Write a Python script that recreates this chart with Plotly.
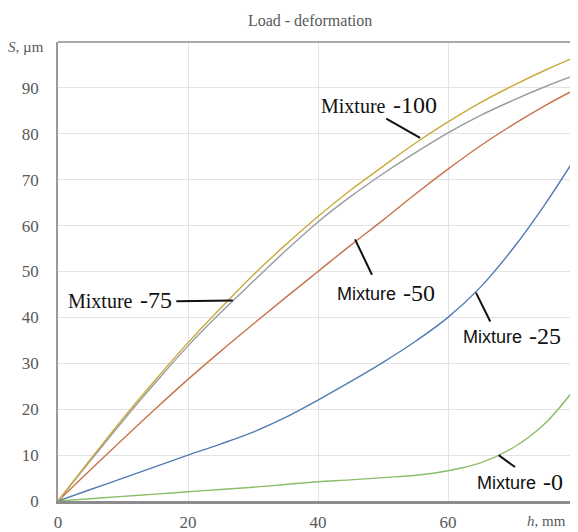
import plotly.graph_objects as go

# ---- data ----
h_mm = [0, 5, 10, 15, 20, 25, 30, 35, 40, 45, 50, 55, 60, 65, 70, 75, 80]
mix_100 = [0, 9.1, 18.0, 26.4, 34.5, 42.0, 49.2, 55.8, 62.0, 67.7, 72.9, 78.0, 82.6, 86.8, 90.5, 93.9, 97.0]
mix_75 = [0, 8.8, 17.5, 25.8, 33.8, 41.0, 47.8, 54.5, 60.8, 66.3, 71.3, 75.9, 80.2, 84.0, 87.3, 90.3, 93.0]
mix_50 = [0, 6.8, 13.5, 20.1, 26.5, 32.6, 38.5, 44.3, 50.0, 55.7, 61.2, 66.9, 72.3, 77.4, 82.0, 86.2, 90.0]
mix_25 = [0, 2.5, 5.0, 7.5, 10.0, 12.4, 15.0, 18.2, 22.0, 26.0, 30.2, 34.8, 40.0, 46.6, 55.0, 64.8, 75.7]
mix_0 = [0, 0.5, 1.0, 1.5, 2.0, 2.5, 3.0, 3.6, 4.2, 4.6, 5.1, 5.6, 6.6, 8.3, 11.6, 17.0, 25.4]

series_names = ["Mixture -0", "Mixture -25", "Mixture -50", "Mixture -75", "Mixture -100"]
series_values = [mix_0, mix_25, mix_50, mix_75, mix_100]
series_colors = ["#8cbd6a", "#4f7db3", "#c8744a", "#9a9aa2", "#c9aa3c"]

x_ticks = [0, 20, 40, 60]
y_ticks = [0, 10, 20, 30, 40, 50, 60, 70, 80, 90]

SERIF = "Liberation Serif"
SANS = "Liberation Sans"

fig = go.Figure()
for name, vals, col in zip(series_names, series_values, series_colors):
    fig.add_trace(go.Scatter(
        x=h_mm, y=vals, mode="lines", name=name,
        line=dict(color=col, width=1.4, shape="spline", smoothing=1.0),
        showlegend=False, hoverinfo="skip"))

# label annotations: (word, number, word font, word size, split x, y, pointer x0,y0,x1,y1)
labels = [
    ("Mixture", "-100", SERIF, 20, 51.1, 86.3, (50.5, 83.3, 55.7, 79.1)),
    ("Mixture", "-75", SERIF, 20, 12.2, 43.7, (18.2, 43.5, 26.9, 43.7)),
    ("Mixture", "-50", SANS, 18, 52.6, 45.4, (45.7, 57.0, 48.3, 49.3)),
    ("Mixture", "-25", SANS, 18, 72.0, 35.9, (64.3, 45.4, 66.5, 39.1)),
    ("Mixture", "-0", SANS, 18, 74.2, 4.1, (67.8, 10.0, 70.3, 7.4)),
]
for word, num, wfont, wsize, lx, ly, (x0, y0, x1, y1) in labels:
    fig.add_annotation(
        x=lx, y=ly, xref="x", yref="y", showarrow=False, text=word,
        font=dict(family=wfont, size=wsize, color="#111111"),
        xanchor="right", yanchor="middle", xshift=-2, yshift=-1)
    fig.add_annotation(
        x=lx, y=ly, xref="x", yref="y", showarrow=False, text=num,
        font=dict(family=SERIF, size=24, color="#111111"),
        xanchor="left", yanchor="middle", xshift=1)
    fig.add_shape(type="line", xref="x", yref="y", x0=x0, y0=y0, x1=x1, y1=y1,
                  line=dict(color="#111111", width=2))

# top border
fig.add_shape(type="line", xref="paper", yref="paper", x0=0, x1=1, y0=1, y1=1,
              line=dict(color="#8c8c8c", width=1.5))

# axis titles
fig.add_annotation(x=0, y=1, xref="paper", yref="paper", xanchor="right", yanchor="middle",
                   xshift=-12, yshift=-5, showarrow=False,
                   text="<i>S</i>, µm", font=dict(family=SERIF, size=15, color="#595959"))
fig.add_annotation(x=1, y=0, xref="paper", yref="paper", xanchor="right", yanchor="top",
                   xshift=-10, yshift=-10, showarrow=False,
                   text="<i>h</i>, mm", font=dict(family=SERIF, size=15, color="#595959"))

# the page body adds an 8px offset, so the figure is 8px smaller on each side
fig.update_layout(
    width=570, height=524,
    margin=dict(l=50, r=0, t=34, b=22),
    paper_bgcolor="white", plot_bgcolor="white",
    title=dict(text="Load - deformation", x=0.53, xanchor="center", y=0.977, yanchor="middle",
               font=dict(family=SERIF, size=16, color="#595959")),
    xaxis=dict(range=[0, 80], tickvals=x_ticks, ticktext=[str(v) for v in x_ticks],
               showgrid=True, gridcolor="#e3e3e3", gridwidth=1,
               showline=True, linecolor="#8c8c8c", linewidth=2.5,
               zeroline=False, ticks="", ticklabelstandoff=4,
               tickfont=dict(family=SERIF, size=17, color="#595959")),
    yaxis=dict(range=[0, 100], tickvals=y_ticks, ticktext=[str(v) for v in y_ticks],
               showgrid=True, gridcolor="#e3e3e3", gridwidth=1,
               showline=True, linecolor="#9a9a9a", linewidth=1.5,
               zeroline=False, ticks="", ticklabelstandoff=14,
               tickfont=dict(family=SERIF, size=17, color="#595959")),
)

fig.write_html("out.html", post_script="document.body.style.overflow='hidden';")
